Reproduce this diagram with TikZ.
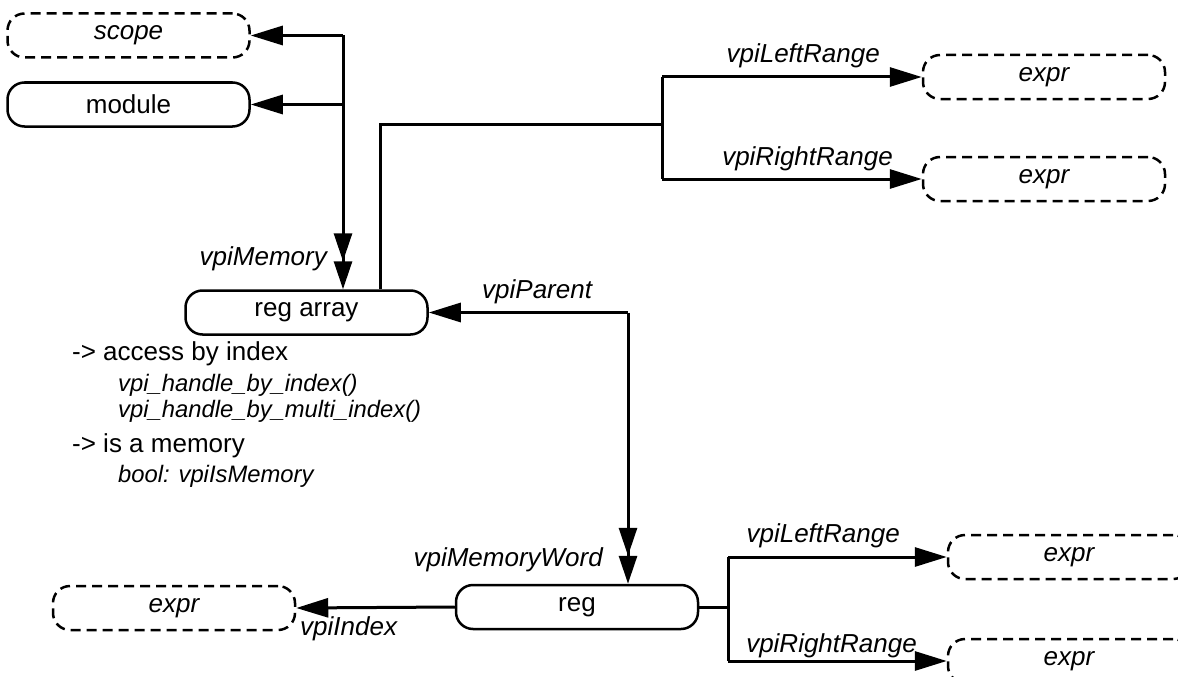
\documentclass[tikz,border=0pt]{standalone}
\usepackage{fontspec}
\setmainfont{Liberation Sans}
\usetikzlibrary{arrows.meta}
\tikzset{
  box/.style={draw, line width=2.5pt, rounded corners=17pt, minimum width=242pt, minimum height=44pt, inner sep=0pt, font=\fontsize{26}{30}\selectfont},
  dbox/.style={box, dash pattern=on 10pt off 6pt, font=\fontsize{26}{30}\selectfont\itshape},
  lbl/.style={font=\fontsize{26}{30}\selectfont\itshape, inner sep=0pt},
  note/.style={font=\fontsize{26}{30}\selectfont, inner sep=0pt, anchor=base west},
  subnote/.style={font=\fontsize{23.8}{28}\selectfont\itshape, inner sep=0pt, anchor=base west},
  conn/.style={line width=3pt},
  one/.style={conn, -{Triangle[length=32pt,width=19pt]}},
  many/.style={conn, -{Triangle[length=28pt,width=18pt,sep=0pt]Triangle[length=28pt,width=18pt]}},
}
\begin{document}
\begin{tikzpicture}[x=1pt,y=-1pt]
\clip (0,0) rectangle (1178,677);
\fill[white] (0,0) rectangle (1178,677);

% nodes
\node[dbox] (scope)    at (128.5,35.5) {scope};
\node[box]  (module)   at (128.5,104.5) {module};
\node[box]  (regarray) at (306.5,312.5) {reg array};
\node[box]  (reg)      at (577,607) {reg};
\node[dbox] (exprL)    at (174,608) {expr};
\node[dbox] (exprTa)   at (1044,77) {expr};
\node[dbox] (exprTb)   at (1044,179) {expr};
\node[dbox] (exprBa)   at (1069,557) {expr};
\node[dbox] (exprBb)   at (1069,661) {expr};

% notes
\node[note]    (n1) at (72,360) {-> access by index};
\node[subnote] (n2) at (118,391) {vpi\_handle\_by\_index()};
\node[subnote] (n3) at (118,417) {vpi\_handle\_by\_multi\_index()};
\node[note]    (n4) at (72,452) {-> is a memory};
\node[subnote] (n5) at (118,482) {bool: vpiIsMemory};

% junction coordinates
\coordinate (j1) at (343,35.5);
\coordinate (t1) at (380,124);
\coordinate (t2) at (662,124);
\coordinate (ta) at (662,77);
\coordinate (tb) at (662,179);
\coordinate (p1) at (628,312.5);
\coordinate (b0) at (728,607);
\coordinate (ba) at (728,557);
\coordinate (bb) at (728,661);

% connectors
\draw[many] (j1) -- (j1 |- regarray.north);
\draw[one] (j1) -- (scope.east);
\draw[one] (j1 |- module.east) -- (module.east);

\draw[conn] (regarray.north -| t1) -- (t1) -- (t2);
\draw[conn] (ta) -- (tb);
\draw[one] (ta) -- (exprTa.west);
\draw[one] (tb) -- (exprTb.west);

\draw[one] (p1) -- (regarray.east);
\draw[many] (p1) -- (p1 |- reg.north);

\draw[one] (reg.west) -- (exprL.east);
\draw[conn] (reg.east) -- (b0);
\draw[conn] (ba) -- (bb);
\draw[one] (ba) -- (exprBa.west);
\draw[one] (bb) -- (exprBb.west);

% labels
\node[lbl, anchor=base east] (lm)  at (327,265) {vpiMemory};
\node[lbl, anchor=base west] (lp)  at (482,298) {vpiParent};
\node[lbl, anchor=base east] (lmw) at (603,566) {vpiMemoryWord};
\node[lbl, anchor=base west] (li)  at (300,635) {vpiIndex};
\node[lbl, anchor=base east] (lta) at (880,63) {vpiLeftRange};
\node[lbl, anchor=base east] (ltb) at (893,165) {vpiRightRange};
\node[lbl, anchor=base east] (lba) at (900,542) {vpiLeftRange};
\node[lbl, anchor=base east] (lbb) at (917,652) {vpiRightRange};
\end{tikzpicture}
\end{document}
